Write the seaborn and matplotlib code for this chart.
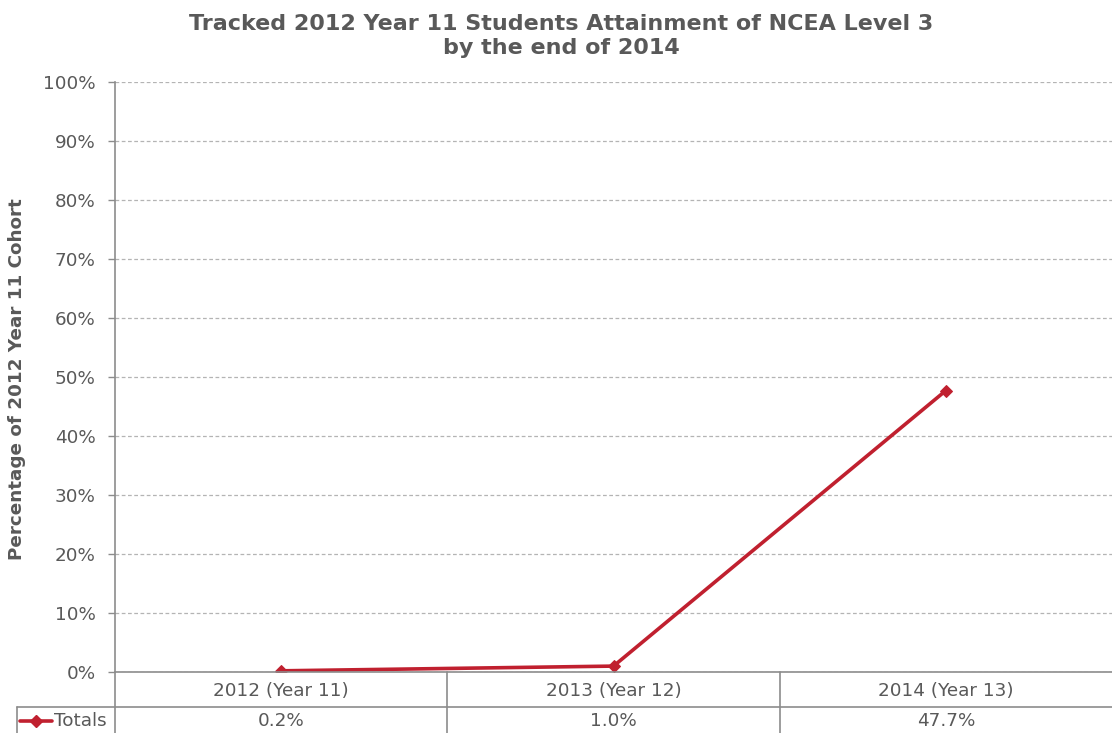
import pandas as pd
import matplotlib.pyplot as plt
import seaborn as sns
from matplotlib.lines import Line2D

years = ['2012 (Year 11)', '2013 (Year 12)', '2014 (Year 13)']
totals = [0.2, 1.0, 47.7]
series_name = 'Totals'

df = pd.DataFrame({'pos': range(len(years)), 'pct': totals})

sns.set_style('white')
plt.rcParams['font.family'] = ['DejaVu Sans']

grey = '#595959'
axis_col = '#8c8c8c'
red = '#C0202F'
fs = 13.2

fig = plt.figure(figsize=(11.12, 7.33), dpi=100)
ax = fig.add_axes([115 / 1112, 1 - 672 / 733, 997 / 1112, 590 / 733])

sns.lineplot(data=df, x='pos', y='pct', ax=ax, color=red, lw=2.6,
             marker='D', markersize=6.5, markeredgecolor=red)

ax.set_xlim(-0.5, 2.5)
ax.set_ylim(0, 100)
ax.set_yticks(range(0, 101, 10))
ax.set_yticklabels([f'{v}%' for v in range(0, 101, 10)], fontsize=fs, color=grey)
ax.set_xticks([])
ax.set_xlabel('')
ax.grid(axis='y', ls=(0, (3, 2)), color='#b4b4b4', lw=0.9)
ax.tick_params(axis='y', left=True, length=5, width=1, color=axis_col, pad=9)
for s in ['top', 'right']:
    ax.spines[s].set_visible(False)
for s in ['left', 'bottom']:
    ax.spines[s].set_color(axis_col)
    ax.spines[s].set_linewidth(1.2)

ax.set_ylabel('')
fig.text(17 / 1112, 1 - 379 / 733, 'Percentage of 2012 Year 11 Cohort',
         rotation=90, ha='center', va='center', fontsize=fs,
         fontweight='bold', color=grey)
fig.text(561 / 1112, 1 - 36 / 733,
         'Tracked 2012 Year 11 Students Attainment of NCEA Level 3\nby the end of 2014',
         ha='center', va='center', fontsize=16, fontweight='bold', color=grey,
         linespacing=1.2)

# data table below the axis
px = 1 / 590
row1 = -35 * px
row2 = -61 * px
mid2 = (row1 + row2) / 2 - 1 * px
tr = ax.get_xaxis_transform()
kw = dict(color=axis_col, lw=1.2, clip_on=False)
ax.add_line(Line2D([-0.795, 2.5], [row1, row1], transform=tr, **kw))
ax.add_line(Line2D([-0.5, -0.5], [0, row2], transform=tr, **kw))
ax.add_line(Line2D([-0.795, -0.795], [row1, row2], transform=tr, **kw))
for b in [0.5, 1.5]:
    ax.add_line(Line2D([b, b], [0, row2], transform=tr, **kw))

for i, (lab, v) in enumerate(zip(years, totals)):
    ax.text(i, row1 / 2 - 1 * px, lab, transform=tr, ha='center', va='center',
            fontsize=fs, color=grey)
    ax.text(i, mid2, f'{v:.1f}%', transform=tr,
            ha='center', va='center', fontsize=fs, color=grey)

# legend key in the table row
ax.add_line(Line2D([-0.786, -0.69], [mid2, mid2], transform=tr,
                   color=red, lw=2.6, clip_on=False))
ax.add_line(Line2D([-0.738], [mid2], transform=tr, color=red,
                   marker='D', markersize=6.5, clip_on=False))
ax.text(-0.683, mid2, series_name, transform=tr,
        ha='left', va='center', fontsize=fs, color=grey)

fig.savefig('out.png', dpi=100)
